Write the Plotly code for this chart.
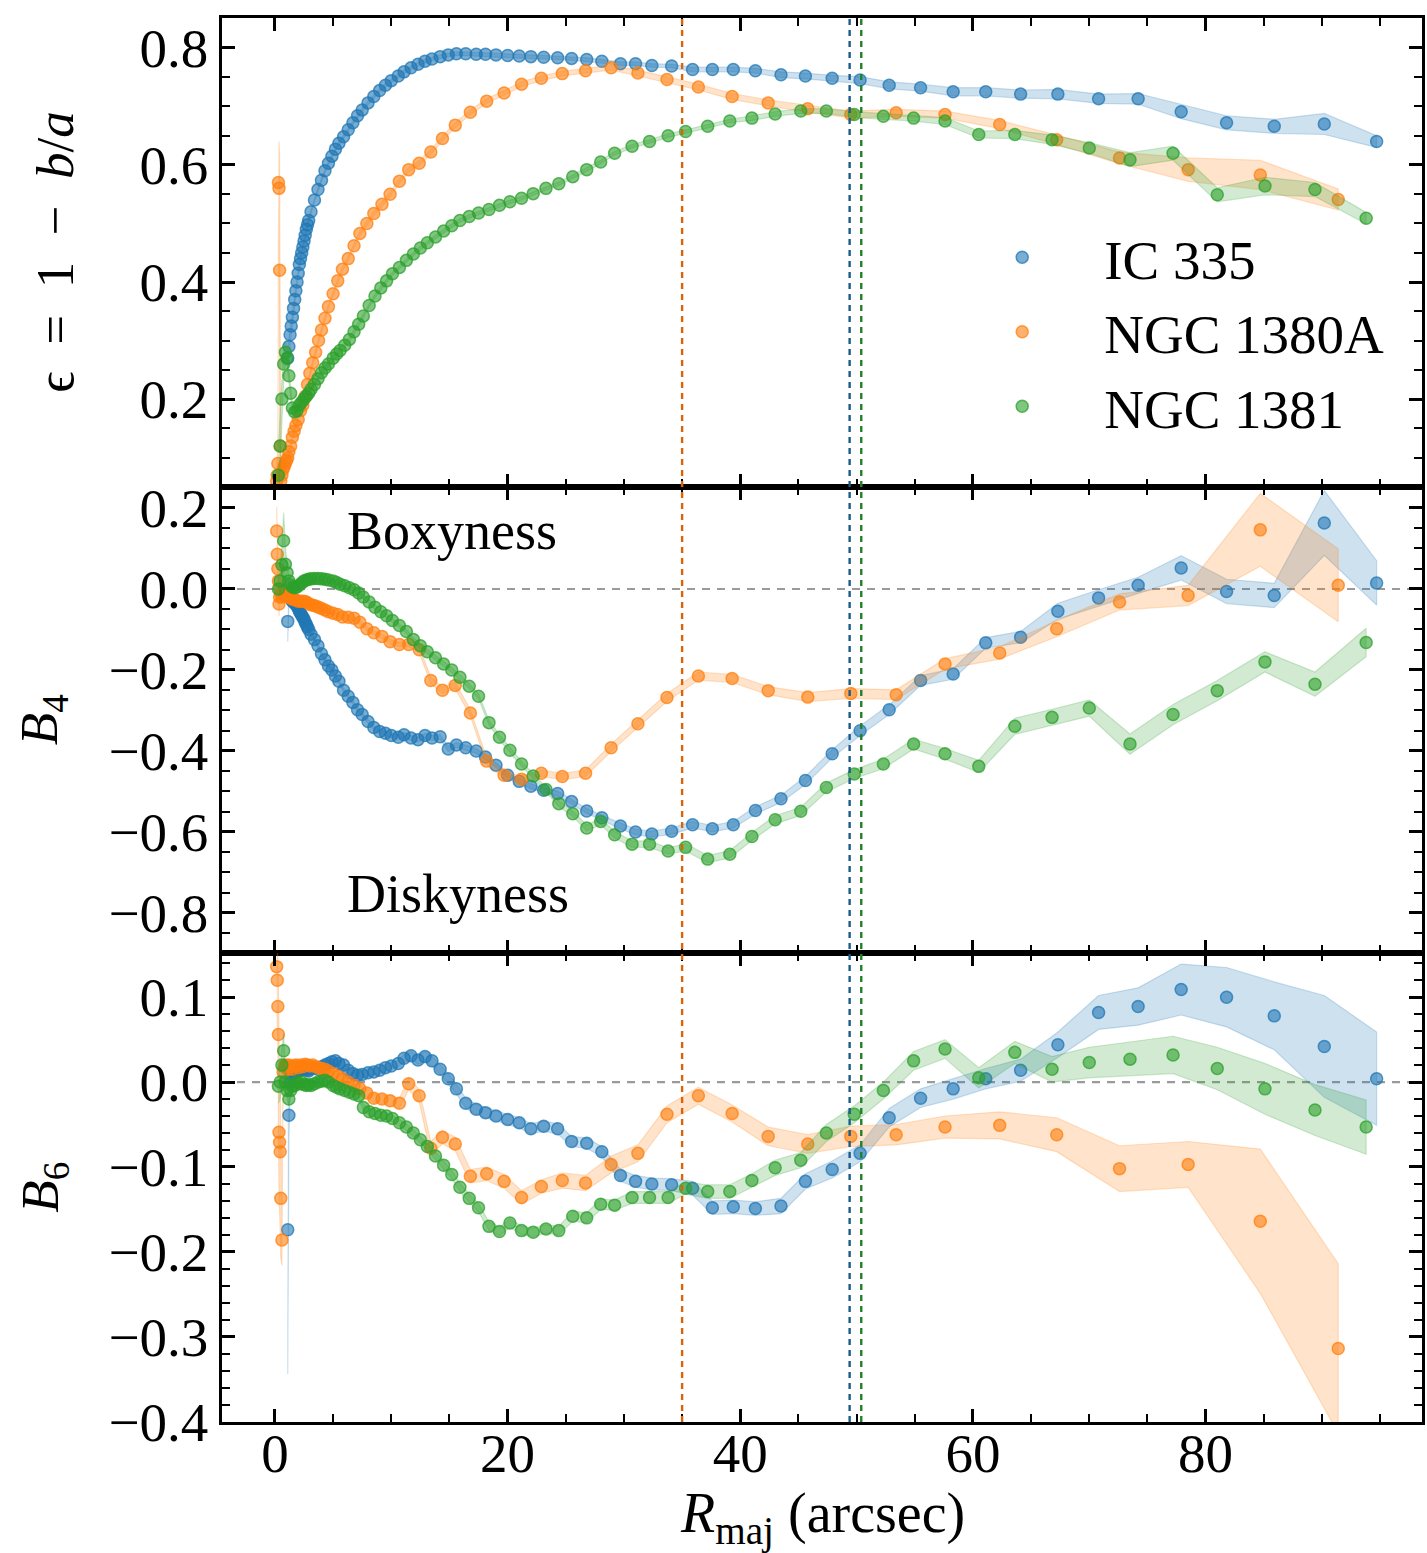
import plotly.graph_objects as go
from plotly.subplots import make_subplots

# ---------------- IC 335 (blue) ----------------
r_ic335 = [1.1, 1.2, 1.3, 1.4, 1.5, 1.6, 1.7, 1.8, 1.9, 2.0,
           2.1, 2.2, 2.3, 2.4, 2.5, 2.6, 2.7, 2.8, 2.9,
           3.1, 3.4, 3.7, 4.0, 4.3, 4.6, 4.9, 5.2, 5.5, 5.9,
           6.3, 6.7, 7.1, 7.5, 8.0, 8.5, 9.0, 9.5, 10.0, 10.6,
           11.1, 11.7, 12.3, 12.9, 13.5, 14.2, 14.9, 15.6, 16.4, 17.3,
           18.1, 19.0, 20.0, 21.0, 22.0, 23.1, 24.3, 25.5, 26.8, 28.1,
           29.7, 31.0, 32.4, 34.1, 35.9, 37.6, 39.4, 41.3, 43.5, 45.6,
           47.9, 50.3, 52.8, 55.5, 58.3, 61.1, 64.1, 67.3, 70.8, 74.2,
           77.9, 81.8, 85.9, 90.2, 94.7]
eps_ic335 = [0.27, 0.29, 0.31, 0.325, 0.34, 0.355, 0.37, 0.385, 0.40, 0.415,
             0.43, 0.44, 0.45, 0.46, 0.47, 0.48, 0.49, 0.498, 0.505,
             0.52, 0.54, 0.558, 0.574, 0.59, 0.603, 0.615, 0.627, 0.637, 0.648,
             0.66, 0.672, 0.684, 0.694, 0.706, 0.717, 0.727, 0.736, 0.744, 0.752,
             0.759, 0.766, 0.772, 0.777, 0.781, 0.785, 0.788, 0.790, 0.790, 0.789,
             0.789, 0.788, 0.787, 0.786, 0.785, 0.784, 0.783, 0.782, 0.780, 0.777,
             0.773, 0.773, 0.770, 0.769, 0.763, 0.763, 0.763, 0.761, 0.754, 0.752,
             0.748, 0.745, 0.736, 0.732, 0.725, 0.725, 0.721, 0.721, 0.713, 0.713,
             0.691, 0.672, 0.666, 0.670, 0.640]
eps_err_ic335 = [0.02, 0.015, 0.01, 0.01, 0.008, 0.007, 0.006, 0.006, 0.005, 0.005,
                 0.004, 0.004, 0.004, 0.004, 0.004, 0.004, 0.004, 0.004, 0.004,
                 0.003, 0.003, 0.003, 0.003, 0.003, 0.003, 0.003, 0.003, 0.003, 0.003,
                 0.003, 0.003, 0.003, 0.003, 0.003, 0.003, 0.003, 0.003, 0.003, 0.003,
                 0.003, 0.003, 0.003, 0.003, 0.003, 0.003, 0.003, 0.003, 0.003, 0.003,
                 0.003, 0.003, 0.003, 0.003, 0.003, 0.003, 0.003, 0.003, 0.003, 0.003,
                 0.003, 0.003, 0.003, 0.003, 0.004, 0.004, 0.004, 0.004, 0.005, 0.005,
                 0.005, 0.006, 0.006, 0.006, 0.007, 0.007, 0.007, 0.008, 0.008, 0.009,
                 0.012, 0.012, 0.012, 0.018, 0.010]
b4_ic335 = [-0.08, -0.01, -0.02, -0.025, -0.03, -0.032, -0.035, -0.038, -0.042, -0.048,
            -0.055, -0.06, -0.065, -0.07, -0.075, -0.082, -0.088, -0.094, -0.10,
            -0.112, -0.125, -0.14, -0.16, -0.175, -0.19, -0.20, -0.215, -0.228, -0.25,
            -0.265, -0.28, -0.298, -0.31, -0.327, -0.342, -0.352, -0.356, -0.362, -0.366,
            -0.36, -0.368, -0.372, -0.362, -0.368, -0.365, -0.395, -0.385, -0.392, -0.40,
            -0.415, -0.435, -0.46, -0.475, -0.487, -0.497, -0.505, -0.525, -0.548, -0.565,
            -0.585, -0.60, -0.605, -0.598, -0.582, -0.592, -0.582, -0.547, -0.518, -0.473,
            -0.407, -0.35, -0.298, -0.226, -0.21, -0.133, -0.119, -0.055, -0.022, 0.009,
            0.052, -0.006, -0.016, 0.163, 0.015]
b4_err_ic335 = [0.05, 0.03, 0.02, 0.015, 0.01, 0.009, 0.008, 0.007, 0.006, 0.006,
                0.005, 0.005, 0.005, 0.005, 0.005, 0.005, 0.005, 0.005, 0.005,
                0.005, 0.005, 0.005, 0.005, 0.005, 0.005, 0.005, 0.005, 0.005, 0.005,
                0.005, 0.005, 0.005, 0.005, 0.005, 0.005, 0.005, 0.005, 0.005, 0.005,
                0.006, 0.006, 0.006, 0.006, 0.006, 0.006, 0.006, 0.006, 0.006, 0.006,
                0.006, 0.006, 0.006, 0.006, 0.006, 0.006, 0.006, 0.006, 0.006, 0.006,
                0.007, 0.007, 0.007, 0.008, 0.008, 0.008, 0.008, 0.009, 0.009, 0.010,
                0.010, 0.012, 0.012, 0.012, 0.013, 0.013, 0.014, 0.020, 0.020, 0.020,
                0.030, 0.030, 0.030, 0.080, 0.055]
b6_ic335 = [-0.174, -0.039, 0.0, 0.008, 0.01, 0.012, 0.015, 0.013, 0.012, 0.014,
            0.015, 0.015, 0.014, 0.015, 0.016, 0.016, 0.015, 0.014, 0.013,
            0.016, 0.017, 0.015, 0.018, 0.02, 0.022, 0.024, 0.025, 0.022, 0.02,
            0.014, 0.01, 0.008, 0.009, 0.011, 0.012, 0.014, 0.017, 0.019, 0.022,
            0.028, 0.031, 0.026, 0.03, 0.025, 0.015, 0.004, -0.008, -0.025, -0.032,
            -0.036, -0.04, -0.044, -0.048, -0.055, -0.052, -0.055, -0.07, -0.072, -0.082,
            -0.110, -0.117, -0.12, -0.121, -0.125, -0.148, -0.147, -0.149, -0.146, -0.117,
            -0.103, -0.084, -0.042, -0.019, -0.008, 0.004, 0.014, 0.044, 0.082, 0.089,
            0.109, 0.10, 0.078, 0.042, 0.004]
b6_err_ic335 = [0.17, 0.03, 0.015, 0.01, 0.008, 0.007, 0.006, 0.005, 0.005, 0.005,
                0.004, 0.004, 0.004, 0.004, 0.004, 0.004, 0.004, 0.004, 0.004,
                0.004, 0.004, 0.004, 0.004, 0.004, 0.004, 0.004, 0.004, 0.004, 0.004,
                0.004, 0.004, 0.004, 0.004, 0.004, 0.004, 0.004, 0.004, 0.004, 0.004,
                0.005, 0.005, 0.005, 0.006, 0.006, 0.006, 0.006, 0.006, 0.006, 0.006,
                0.006, 0.006, 0.006, 0.006, 0.006, 0.006, 0.006, 0.006, 0.006, 0.006,
                0.007, 0.007, 0.007, 0.007, 0.008, 0.008, 0.008, 0.008, 0.009, 0.009,
                0.010, 0.010, 0.011, 0.011, 0.012, 0.012, 0.013, 0.015, 0.020, 0.022,
                0.030, 0.035, 0.040, 0.060, 0.055]

# ---------------- NGC 1380A (orange) ----------------
r_n1380a = [0.15, 0.2, 0.25, 0.3, 0.35, 0.4, 0.45, 0.5, 0.6, 0.7,
            0.8, 0.9, 1.0, 1.1, 1.2, 1.35, 1.5, 1.65, 1.8, 2.0,
            2.2, 2.4, 2.6, 2.8, 3.0, 3.25, 3.5, 3.75, 4.0, 4.3,
            4.6, 5.0, 5.4, 5.8, 6.3, 6.8, 7.3, 7.9, 8.5, 9.2,
            9.9, 10.7, 11.5, 12.4, 13.4, 14.4, 15.5, 16.8, 18.2, 19.7,
            21.2, 22.9, 24.7, 26.7, 28.9, 31.2, 33.7, 36.4, 39.3, 42.4,
            45.8, 49.5, 53.4, 57.6, 62.3, 67.2, 72.6, 78.5, 84.7, 91.4]
eps_n1380a = [0.06, 0.07, 0.09, 0.57, 0.56, 0.42, 0.12, 0.06, 0.07, 0.08,
              0.085, 0.09, 0.095, 0.10, 0.11, 0.12, 0.135, 0.145, 0.155, 0.165,
              0.18, 0.19, 0.205, 0.225, 0.244, 0.262, 0.28, 0.30, 0.318, 0.338,
              0.358, 0.38, 0.402, 0.422, 0.44, 0.462, 0.483, 0.50, 0.517, 0.533,
              0.55, 0.572, 0.592, 0.603, 0.622, 0.645, 0.668, 0.69, 0.709, 0.723,
              0.738, 0.748, 0.756, 0.761, 0.766, 0.757, 0.746, 0.733, 0.717, 0.706,
              0.696, 0.686, 0.689, 0.686, 0.669, 0.643, 0.612, 0.592, 0.583, 0.541]
eps_err_n1380a = [0.03, 0.03, 0.04, 0.07, 0.08, 0.20, 0.05, 0.03, 0.02, 0.015,
                  0.01, 0.008, 0.006, 0.005, 0.005, 0.004, 0.004, 0.004, 0.004, 0.004,
                  0.004, 0.004, 0.004, 0.004, 0.004, 0.004, 0.004, 0.004, 0.004, 0.004,
                  0.004, 0.004, 0.004, 0.004, 0.004, 0.004, 0.004, 0.004, 0.004, 0.004,
                  0.004, 0.004, 0.004, 0.004, 0.004, 0.004, 0.004, 0.004, 0.004, 0.004,
                  0.004, 0.004, 0.004, 0.004, 0.004, 0.005, 0.005, 0.005, 0.005, 0.005,
                  0.006, 0.006, 0.006, 0.006, 0.007, 0.008, 0.010, 0.020, 0.025, 0.018]
b4_n1380a = [0.143, 0.086, 0.05, 0.02, -0.037, -0.02, 0.0, -0.01, -0.02, -0.015,
             -0.01, -0.012, -0.015, -0.018, -0.02, -0.022, -0.025, -0.025, -0.028, -0.03,
             -0.03, -0.03, -0.031, -0.034, -0.038, -0.04, -0.042, -0.045, -0.048, -0.052,
             -0.056, -0.06, -0.063, -0.069, -0.07, -0.072, -0.082, -0.098, -0.108, -0.117,
             -0.13, -0.137, -0.137, -0.15, -0.226, -0.25, -0.238, -0.306, -0.425, -0.46,
             -0.47, -0.455, -0.463, -0.455, -0.392, -0.333, -0.268, -0.215, -0.221, -0.251,
             -0.267, -0.258, -0.261, -0.185, -0.158, -0.098, -0.032, -0.016, 0.146, 0.009]
b4_err_n1380a = [0.06, 0.04, 0.03, 0.03, 0.03, 0.02, 0.02, 0.015, 0.01, 0.01,
                 0.008, 0.007, 0.006, 0.006, 0.005, 0.005, 0.005, 0.005, 0.005, 0.005,
                 0.005, 0.005, 0.005, 0.005, 0.005, 0.005, 0.005, 0.005, 0.005, 0.005,
                 0.005, 0.005, 0.005, 0.005, 0.005, 0.005, 0.005, 0.005, 0.005, 0.005,
                 0.006, 0.006, 0.006, 0.007, 0.008, 0.008, 0.008, 0.008, 0.008, 0.008,
                 0.008, 0.008, 0.008, 0.008, 0.009, 0.009, 0.010, 0.010, 0.010, 0.010,
                 0.011, 0.012, 0.012, 0.013, 0.015, 0.020, 0.020, 0.025, 0.090, 0.090]
b6_n1380a = [0.136, 0.12, 0.089, 0.056, -0.059, -0.071, -0.082, -0.137, -0.186, 0.012,
             0.018, 0.02, 0.019, 0.015, 0.02, 0.018, 0.015, 0.019, 0.02, 0.017,
             0.02, 0.018, 0.021, 0.02, 0.019, 0.02, 0.018, 0.017, 0.016, 0.015,
             0.013, 0.01, 0.007, 0.004, 0.0, -0.004, -0.008, -0.013, -0.019, -0.02,
             -0.022, -0.025, -0.002, -0.016, -0.078, -0.065, -0.073, -0.111, -0.108, -0.117,
             -0.136, -0.123, -0.116, -0.119, -0.097, -0.084, -0.038, -0.016, -0.037, -0.064,
             -0.073, -0.064, -0.062, -0.053, -0.051, -0.062, -0.102, -0.097, -0.164, -0.314]
b6_err_n1380a = [0.05, 0.05, 0.05, 0.06, 0.08, 0.08, 0.08, 0.07, 0.03, 0.015,
                 0.01, 0.008, 0.006, 0.006, 0.005, 0.005, 0.005, 0.005, 0.005, 0.005,
                 0.005, 0.005, 0.005, 0.005, 0.005, 0.005, 0.005, 0.005, 0.005, 0.005,
                 0.005, 0.005, 0.005, 0.005, 0.005, 0.005, 0.005, 0.005, 0.005, 0.005,
                 0.006, 0.006, 0.007, 0.007, 0.008, 0.008, 0.008, 0.008, 0.008, 0.008,
                 0.008, 0.008, 0.009, 0.009, 0.010, 0.010, 0.010, 0.010, 0.010, 0.011,
                 0.011, 0.012, 0.012, 0.013, 0.016, 0.020, 0.027, 0.027, 0.085, 0.100]

# ---------------- NGC 1381 (green) ----------------
r_n1381 = [0.3, 0.45, 0.6, 0.75, 0.9, 1.05, 1.2, 1.35, 1.5, 1.7,
           1.9, 2.1, 2.3, 2.5, 2.7, 2.9, 3.1, 3.4, 3.7, 4.0,
           4.3, 4.6, 5.0, 5.3, 5.6, 6.0, 6.4, 6.8, 7.2, 7.6,
           8.1, 8.6, 9.1, 9.6, 10.1, 10.7, 11.3, 11.9, 12.5, 13.1,
           13.8, 14.5, 15.2, 15.9, 16.7, 17.5, 18.4, 19.3, 20.2, 21.2,
           22.2, 23.3, 24.4, 25.6, 26.8, 28.0, 29.2, 30.7, 32.2, 33.8,
           35.3, 37.2, 39.1, 41.0, 43.0, 45.2, 47.4, 49.8, 52.3, 54.9,
           57.6, 60.5, 63.6, 66.8, 70.0, 73.5, 77.2, 81.0, 85.1, 89.4,
           93.8]
eps_n1381 = [0.07, 0.12, 0.2, 0.26, 0.28, 0.27, 0.24, 0.21, 0.185, 0.178,
             0.18, 0.19, 0.195, 0.2, 0.205, 0.21, 0.217, 0.225, 0.235, 0.245,
             0.253, 0.26, 0.27, 0.277, 0.283, 0.292, 0.302, 0.315, 0.328, 0.342,
             0.36, 0.376, 0.39, 0.402, 0.414, 0.425, 0.437, 0.448, 0.458, 0.467,
             0.477, 0.487, 0.496, 0.505, 0.512, 0.518, 0.524, 0.531, 0.537, 0.543,
             0.551, 0.56, 0.568, 0.58, 0.592, 0.605, 0.62, 0.632, 0.64, 0.65,
             0.657, 0.666, 0.675, 0.68, 0.687, 0.692, 0.692, 0.686, 0.683, 0.68,
             0.675, 0.652, 0.652, 0.643, 0.629, 0.609, 0.620, 0.549, 0.564, 0.558,
             0.509]
eps_err_n1381 = [0.05, 0.05, 0.04, 0.03, 0.02, 0.015, 0.01, 0.008, 0.006, 0.005,
                 0.004, 0.004, 0.004, 0.004, 0.004, 0.004, 0.004, 0.004, 0.004, 0.004,
                 0.004, 0.004, 0.004, 0.004, 0.004, 0.004, 0.004, 0.004, 0.004, 0.004,
                 0.003, 0.003, 0.003, 0.003, 0.003, 0.003, 0.003, 0.003, 0.003, 0.003,
                 0.003, 0.003, 0.003, 0.003, 0.003, 0.003, 0.003, 0.003, 0.003, 0.003,
                 0.003, 0.003, 0.003, 0.003, 0.003, 0.003, 0.003, 0.003, 0.003, 0.003,
                 0.003, 0.003, 0.003, 0.004, 0.004, 0.004, 0.004, 0.005, 0.005, 0.005,
                 0.006, 0.006, 0.007, 0.008, 0.009, 0.012, 0.012, 0.012, 0.015, 0.012,
                 0.010]
b4_n1381 = [0.0, 0.02, 0.06, 0.119, 0.061, 0.04, 0.02, 0.01, 0.005, 0.003,
            0.005, 0.01, 0.015, 0.02, 0.022, 0.024, 0.025, 0.026, 0.026, 0.025,
            0.024, 0.022, 0.02, 0.016, 0.012, 0.008, 0.003, -0.002, -0.01, -0.02,
            -0.032, -0.045, -0.056, -0.066, -0.078, -0.09, -0.105, -0.125, -0.14, -0.155,
            -0.17, -0.185, -0.2, -0.218, -0.24, -0.265, -0.33, -0.366, -0.398, -0.432,
            -0.462, -0.495, -0.53, -0.555, -0.59, -0.574, -0.607, -0.63, -0.63, -0.647,
            -0.638, -0.667, -0.655, -0.611, -0.57, -0.549, -0.49, -0.457, -0.432, -0.383,
            -0.407, -0.438, -0.339, -0.317, -0.294, -0.383, -0.31, -0.251, -0.18, -0.235,
            -0.132]
b4_err_n1381 = [0.02, 0.03, 0.05, 0.07, 0.04, 0.02, 0.01, 0.008, 0.006, 0.005,
                0.005, 0.005, 0.005, 0.005, 0.005, 0.005, 0.005, 0.005, 0.005, 0.005,
                0.005, 0.005, 0.005, 0.005, 0.005, 0.005, 0.005, 0.005, 0.005, 0.005,
                0.005, 0.005, 0.005, 0.005, 0.005, 0.005, 0.005, 0.005, 0.005, 0.005,
                0.006, 0.006, 0.006, 0.006, 0.006, 0.006, 0.006, 0.006, 0.006, 0.006,
                0.006, 0.006, 0.007, 0.007, 0.007, 0.008, 0.008, 0.008, 0.008, 0.008,
                0.009, 0.009, 0.009, 0.010, 0.010, 0.010, 0.011, 0.011, 0.012, 0.012,
                0.013, 0.015, 0.020, 0.020, 0.020, 0.025, 0.025, 0.025, 0.025, 0.030,
                0.035]
b6_n1381 = [-0.005, 0.0, 0.02, 0.037, 0.0, -0.01, -0.02, -0.01, -0.005, -0.004,
            0.0, -0.002, 0.0, -0.003, -0.004, -0.003, -0.004, -0.002, 0.0, 0.001,
            0.002, 0.0, -0.004, -0.006, -0.008, -0.01, -0.012, -0.014, -0.016, -0.03,
            -0.035, -0.037, -0.039, -0.04, -0.043, -0.048, -0.053, -0.06, -0.068, -0.076,
            -0.087, -0.098, -0.109, -0.124, -0.137, -0.148, -0.17, -0.176, -0.166, -0.175,
            -0.177, -0.173, -0.175, -0.158, -0.16, -0.144, -0.145, -0.136, -0.136, -0.136,
            -0.125, -0.129, -0.129, -0.116, -0.101, -0.092, -0.06, -0.038, -0.01, 0.025,
            0.039, 0.005, 0.035, 0.015, 0.023, 0.027, 0.032, 0.016, -0.008, -0.033,
            -0.053]
b6_err_n1381 = [0.02, 0.02, 0.02, 0.02, 0.015, 0.01, 0.008, 0.006, 0.005, 0.005,
                0.004, 0.004, 0.004, 0.004, 0.004, 0.004, 0.004, 0.004, 0.004, 0.004,
                0.004, 0.004, 0.004, 0.004, 0.004, 0.004, 0.004, 0.004, 0.004, 0.004,
                0.004, 0.004, 0.004, 0.004, 0.004, 0.004, 0.004, 0.004, 0.004, 0.004,
                0.005, 0.005, 0.005, 0.005, 0.005, 0.005, 0.005, 0.005, 0.005, 0.005,
                0.005, 0.005, 0.005, 0.006, 0.006, 0.006, 0.006, 0.007, 0.007, 0.007,
                0.007, 0.008, 0.008, 0.008, 0.009, 0.009, 0.010, 0.010, 0.010, 0.011,
                0.011, 0.012, 0.013, 0.015, 0.018, 0.020, 0.022, 0.025, 0.030, 0.030,
                0.032]

galaxy_names = ["IC 335", "NGC 1380A", "NGC 1381"]
bar_radius = [49.4, 35.0, 50.4]   # vertical dashed lines (arcsec)

# ---------------- figure ----------------
FONT = "Liberation Serif"
rgb = [(31, 119, 180), (255, 127, 14), (44, 160, 44)]
dash_cols = ["#1b5c8c", "#d9650a", "#23802a"]

galaxies = [
    (r_ic335, [(eps_ic335, eps_err_ic335), (b4_ic335, b4_err_ic335), (b6_ic335, b6_err_ic335)]),
    (r_n1380a, [(eps_n1380a, eps_err_n1380a), (b4_n1380a, b4_err_n1380a), (b6_n1380a, b6_err_n1380a)]),
    (r_n1381, [(eps_n1381, eps_err_n1381), (b4_n1381, b4_err_n1381), (b6_n1381, b6_err_n1381)]),
]
for R, panels in galaxies:
    for vals, errs in panels:
        assert len(R) == len(vals) == len(errs), (len(R), len(vals), len(errs))

fig = make_subplots(rows=3, cols=1, shared_xaxes=True, vertical_spacing=0)

for gi, (R, panels) in enumerate(galaxies):
    c = rgb[gi]
    for pi, (vals, errs) in enumerate(panels):
        upper = [v + e for v, e in zip(vals, errs)]
        lower = [v - e for v, e in zip(vals, errs)]
        fig.add_trace(go.Scatter(
            x=list(R) + list(R)[::-1], y=upper + lower[::-1],
            fill="toself", fillcolor="rgba(%d,%d,%d,0.22)" % c,
            line=dict(width=1.2, color="rgba(%d,%d,%d,0.22)" % c),
            mode="lines", hoverinfo="skip", showlegend=False,
        ), row=pi + 1, col=1)
        fig.add_trace(go.Scatter(
            x=R, y=vals, mode="markers", name=galaxy_names[gi],
            legendgroup=galaxy_names[gi], showlegend=(pi == 0),
            marker=dict(size=12, color="rgba(%d,%d,%d,0.6)" % c,
                        line=dict(color="rgba(%d,%d,%d,0.75)" % c, width=1.5)),
        ), row=pi + 1, col=1)

XR = [-4.55, 98.6]
axis_common = dict(
    showline=True, linecolor="black", linewidth=2.5, mirror="allticks",
    ticks="inside", ticklen=13, tickwidth=2.5, tickcolor="black",
    showgrid=False, zeroline=False,
    tickfont=dict(family=FONT, size=55, color="black"),
)
for i in range(1, 4):
    fig.update_xaxes(range=XR, dtick=20, tick0=0,
                     minor=dict(ticks="inside", ticklen=8, tickwidth=2, tickcolor="black", dtick=5, tick0=0),
                     showticklabels=(i == 3), ticklabelstandoff=-19,
                     **axis_common, row=i, col=1)

fig.update_yaxes(range=[0.05, 0.851], dtick=0.2, tick0=0, tickformat=".1f",
                 minor=dict(ticks="inside", ticklen=8, tickwidth=2, tickcolor="black", dtick=0.05, tick0=0),
                 ticklabelstandoff=0, **axis_common, row=1, col=1)
fig.update_yaxes(range=[-0.899, 0.252], dtick=0.2, tick0=0, tickformat=".1f",
                 minor=dict(ticks="inside", ticklen=8, tickwidth=2, tickcolor="black", dtick=0.05, tick0=0),
                 ticklabelstandoff=0, **axis_common, row=2, col=1)
fig.update_yaxes(range=[-0.4005, 0.152], dtick=0.1, tick0=0, tickformat=".1f",
                 minor=dict(ticks="inside", ticklen=8, tickwidth=2, tickcolor="black", dtick=0.02, tick0=0),
                 ticklabelstandoff=0, **axis_common, row=3, col=1)

fig.update_layout(
    yaxis=dict(domain=[0.666, 1.0]),
    yaxis2=dict(domain=[0.334, 0.666]),
    yaxis3=dict(domain=[0.0, 0.334]),
)

# horizontal zero lines in B4 / B6 panels
for yref in ["y2", "y3"]:
    fig.add_shape(type="line", xref="x", yref=yref, x0=XR[0], x1=XR[1], y0=0, y1=0,
                  line=dict(color="#9a9a9a", width=2.2, dash="8px,7px"), layer="below")

# vertical dashed lines across all panels
for gi, xv in enumerate(bar_radius):
    fig.add_shape(type="line", xref="x", yref="paper", x0=xv, x1=xv, y0=0, y1=1,
                  line=dict(color=dash_cols[gi], width=2.4, dash="6px,5px"), layer="above")

ann_font = dict(family=FONT, size=53, color="black")
SP = "\u2002"
fig.add_annotation(text="ϵ" + SP + "=" + SP + "1" + SP + "−" + SP + "<i>b</i>/<i>a</i>",
                   xref="paper", yref="paper",
                   x=-0.139, y=0.833, textangle=-90, showarrow=False,
                   xanchor="center", yanchor="middle", font=ann_font)
fig.add_annotation(text="<i>B</i><sub>4</sub>", xref="paper", yref="paper",
                   x=-0.149, y=0.5, textangle=-90, showarrow=False,
                   xanchor="center", yanchor="middle", font=ann_font)
fig.add_annotation(text="<i>B</i><sub>6</sub>", xref="paper", yref="paper",
                   x=-0.149, y=0.167, textangle=-90, showarrow=False,
                   xanchor="center", yanchor="middle", font=ann_font)
fig.add_annotation(text="<i>R</i><sub>maj</sub> (arcsec)", xref="paper", yref="paper",
                   x=0.5, y=-0.068, showarrow=False, xanchor="center", yanchor="middle",
                   font=dict(family=FONT, size=56, color="black"))
fig.add_annotation(text="Boxyness", xref="x", yref="y2", x=6.0, y=0.143,
                   showarrow=False, xanchor="left", yanchor="middle",
                   font=dict(family=FONT, size=54, color="black"))
fig.add_annotation(text="Diskyness", xref="x", yref="y2", x=6.0, y=-0.753,
                   showarrow=False, xanchor="left", yanchor="middle",
                   font=dict(family=FONT, size=54, color="black"))

fig.update_layout(
    width=1427, height=1553,
    margin=dict(l=222, r=2, t=18, b=131),
    paper_bgcolor="white", plot_bgcolor="white",
    showlegend=True,
    legend=dict(x=0.5985, y=0.8597, xanchor="left", yanchor="top",
                bgcolor="rgba(0,0,0,0)", borderwidth=0,
                font=dict(family=FONT, size=55, color="black"),
                itemwidth=154, tracegroupgap=0),
)

fig.write_html("out.html")
